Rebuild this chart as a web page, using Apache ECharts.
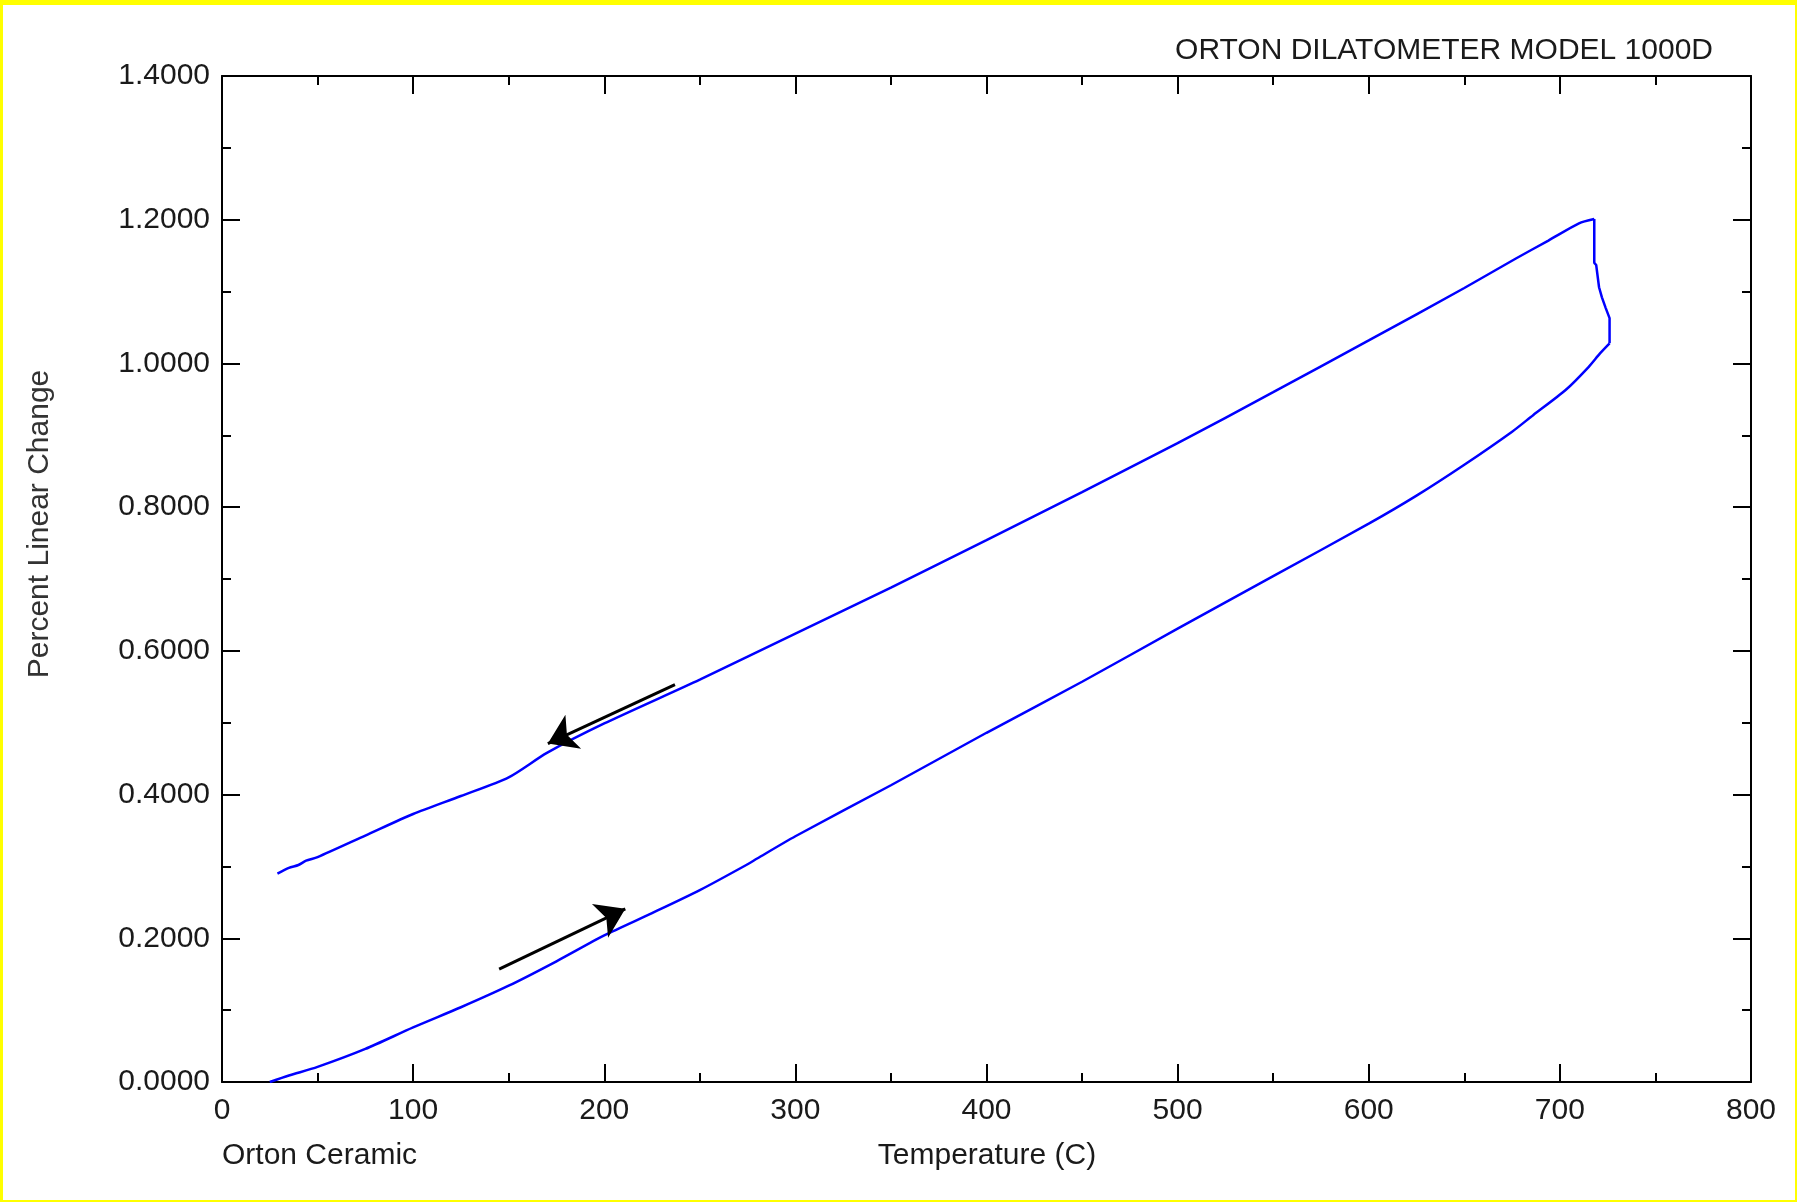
<!DOCTYPE html>
<html>
<head>
<meta charset="utf-8">
<script src="https://cdn.jsdelivr.net/npm/echarts@6/dist/echarts.min.js"></script>
<style>
html,body{margin:0;padding:0;background:#fff;}
#chart{width:1797px;height:1202px;}
</style>
</head>
<body>
<div id="chart"></div>
<script>
// Heating branch (lower curve)
var heatTemp = [25, 35, 50, 75, 100, 125, 150, 175, 200, 225, 250, 275, 280, 300, 350, 400, 450, 500, 550, 600, 625, 650, 675, 686, 703, 715, 721, 726];
var heatPct  = [0.000, 0.009, 0.021, 0.046, 0.076, 0.104, 0.134, 0.168, 0.204, 0.235, 0.267, 0.303, 0.311, 0.342, 0.413, 0.486, 0.557, 0.631, 0.704, 0.777, 0.816, 0.859, 0.905, 0.928, 0.963, 0.995, 1.014, 1.028];
// Softening / hold section (joins the two branches)
var holdTemp = [726, 726, 724, 722, 720.5, 719, 718, 718];
var holdPct  = [1.028, 1.063, 1.077, 1.092, 1.106, 1.137, 1.140, 1.201];
// Cooling branch (upper curve)
var coolTemp = [718, 710, 694, 677, 650, 600, 550, 500, 450, 400, 350, 300, 250, 200, 170, 150, 125, 100, 75, 50, 44, 40, 35, 29];
var coolPct  = [1.201, 1.195, 1.171, 1.146, 1.105, 1.032, 0.960, 0.889, 0.821, 0.754, 0.688, 0.624, 0.560, 0.499, 0.458, 0.424, 0.398, 0.373, 0.343, 0.313, 0.308, 0.302, 0.298, 0.290];
// Direction arrows [temp, pct]
var arrowCool = [[237, 0.553], [170.5, 0.471]];
var arrowHeat = [[145, 0.157], [211, 0.241]];
// Axis ticks
var xTicks = [0, 100, 200, 300, 400, 500, 600, 700, 800];
var yTicks = [0, 0.2, 0.4, 0.6, 0.8, 1.0, 1.2, 1.4];

var titleText = 'ORTON DILATOMETER MODEL 1000D';
var yName = 'Percent Linear Change';
var xName = 'Temperature (C)';
var footLeft = 'Orton Ceramic';

function pairs(t, p) { return t.map(function (v, i) { return [v, p[i]]; }); }

var FONT = '"Liberation Sans", Arial, Helvetica, sans-serif';
var TXT = '#1a1a1a';
var FS = 30;
var axisLine = { show: true, onZero: false, lineStyle: { color: '#000', width: 2 } };

function xAx(pos, showLabel) {
  return {
    type: 'value', position: pos, min: xTicks[0], max: xTicks[xTicks.length - 1],
    interval: xTicks[1] - xTicks[0],
    axisLine: axisLine,
    axisTick: { show: true, inside: true, length: 18, lineStyle: { color: '#000', width: 2 } },
    minorTick: { show: true, splitNumber: 2, length: 9, lineStyle: { color: '#000', width: 2 } },
    splitLine: { show: false },
    axisLabel: { show: showLabel, margin: 14, fontSize: FS, color: TXT, fontFamily: FONT }
  };
}
function yAx(pos, showLabel) {
  return {
    type: 'value', position: pos, min: yTicks[0], max: yTicks[yTicks.length - 1],
    interval: yTicks[1] - yTicks[0],
    axisLine: axisLine,
    axisTick: { show: true, inside: true, length: 18, lineStyle: { color: '#000', width: 2 } },
    minorTick: { show: true, splitNumber: 2, length: 9, lineStyle: { color: '#000', width: 2 } },
    splitLine: { show: false },
    axisLabel: { show: showLabel, margin: 12, fontSize: FS, color: TXT, fontFamily: FONT,
      formatter: function (v) { return v.toFixed(4); } }
  };
}

var lineStyle = { color: '#0000ff', width: 2.5 };

var chart = echarts.init(document.getElementById('chart'), null, { renderer: 'canvas' });
chart.setOption({
  animation: false,
  backgroundColor: '#fff',
  grid: { left: 222, right: 46, top: 76, bottom: 120 },
  xAxis: [xAx('bottom', true), xAx('top', false)],
  yAxis: [yAx('left', true), yAx('right', false)],
  graphic: [
    { type: 'rect', left: 0, top: 0, shape: { width: 1797, height: 5 }, style: { fill: '#ffff00' }, z: 100 },
    { type: 'rect', left: 0, top: 1200, shape: { width: 1797, height: 2 }, style: { fill: '#ffff00' }, z: 100 },
    { type: 'rect', left: 0, top: 0, shape: { width: 3, height: 1202 }, style: { fill: '#ffff00' }, z: 100 },
    { type: 'rect', left: 1795, top: 0, shape: { width: 2, height: 1202 }, style: { fill: '#ffff00' }, z: 100 },
    { type: 'text', x: 1713, y: 51, style: { text: titleText, font: FS + 'px ' + FONT, fill: TXT, align: 'right', verticalAlign: 'middle' } },
    { type: 'text', x: 222, y: 1156, style: { text: footLeft, font: FS + 'px ' + FONT, fill: TXT, align: 'left', verticalAlign: 'middle' } },
    { type: 'text', x: 987, y: 1156, style: { text: xName, font: FS + 'px ' + FONT, fill: TXT, align: 'center', verticalAlign: 'middle' } },
    { type: 'text', x: 40, y: 524, rotation: Math.PI / 2, style: { text: yName, font: FS + 'px ' + FONT, fill: '#333', align: 'center', verticalAlign: 'middle' } }
  ],
  series: [
    { type: 'line', data: pairs(heatTemp, heatPct), showSymbol: false, symbol: 'none',
      smooth: 0.25, lineStyle: lineStyle, z: 3 },
    { type: 'line', data: pairs(holdTemp, holdPct), showSymbol: false, symbol: 'none',
      lineStyle: lineStyle, z: 3 },
    { type: 'line', data: pairs(coolTemp, coolPct), showSymbol: false, symbol: 'none',
      smooth: 0.25, lineStyle: lineStyle, z: 3 },
    {
      type: 'lines', coordinateSystem: 'cartesian2d',
      symbol: ['none', 'arrow'], symbolSize: [20, 28],
      lineStyle: { color: '#000', width: 3, opacity: 1 },
      itemStyle: { color: '#000' },
      data: [{ coords: arrowCool }, { coords: arrowHeat }], z: 4
    }
  ]
});
</script>
</body>
</html>
